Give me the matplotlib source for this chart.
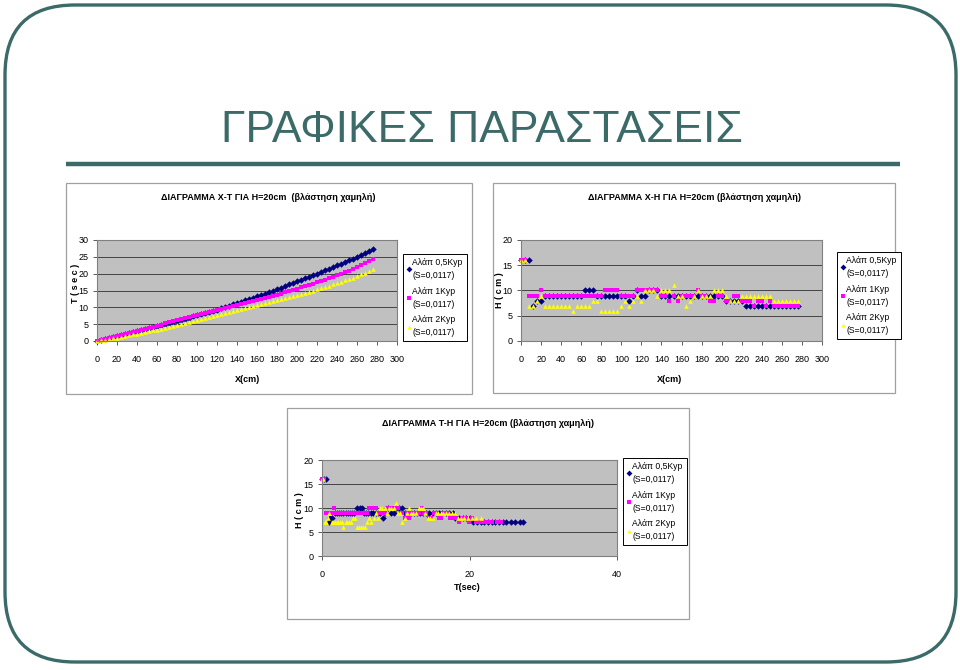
import numpy as np
import matplotlib
matplotlib.use("Agg")
import matplotlib.pyplot as plt
from matplotlib.patches import FancyBboxPatch, Rectangle
from matplotlib.lines import Line2D

plt.rcParams['font.family'] = ['Liberation Sans', 'DejaVu Sans']

# distance along the channel (cm), same grid for the three runs
x_cm = [0, 4, 8, 12, 16, 20, 24, 28, 32, 36,
        40, 44, 48, 52, 56, 60, 64, 68, 72, 76,
        80, 84, 88, 92, 96, 100, 104, 108, 112, 116,
        120, 124, 128, 132, 136, 140, 144, 148, 152, 156,
        160, 164, 168, 172, 176, 180, 184, 188, 192, 196,
        200, 204, 208, 212, 216, 220, 224, 228, 232, 236,
        240, 244, 248, 252, 256, 260, 264, 268, 272, 276]

# time (sec)
t_05 = [0, 0.3, 0.6, 0.9, 1.1, 1.4, 1.7, 2.0, 2.3, 2.6,
        2.9, 3.2, 3.5, 3.8, 4.1, 4.4, 4.8, 5.1, 5.4, 5.7,
        6.0, 6.3, 6.6, 6.9, 7.3, 7.6, 7.9, 8.3, 8.6, 8.9,
        9.3, 9.7, 10.1, 10.5, 10.9, 11.3, 11.7, 12.1, 12.5, 12.9,
        13.3, 13.7, 14.1, 14.5, 15.0, 15.4, 15.8, 16.3, 16.8, 17.2,
        17.7, 18.1, 18.6, 19.1, 19.5, 20.0, 20.5, 21.0, 21.5, 22.0,
        22.5, 23.0, 23.4, 24.0, 24.5, 25.0, 25.6, 26.2, 26.8, 27.3]
t_1 = [0, 0.3, 0.6, 1.0, 1.3, 1.6, 1.9, 2.2, 2.5, 2.8,
       3.1, 3.4, 3.7, 4.0, 4.3, 4.6, 4.9, 5.2, 5.5, 5.8,
       6.1, 6.4, 6.7, 7.0, 7.3, 7.6, 7.9, 8.2, 8.5, 8.8,
       9.1, 9.4, 9.7, 10.0, 10.3, 10.6, 10.9, 11.2, 11.5, 11.8,
       12.1, 12.5, 12.8, 13.1, 13.5, 13.8, 14.1, 14.5, 14.8, 15.2,
       15.5, 15.9, 16.2, 16.6, 17.0, 17.4, 17.8, 18.2, 18.6, 19.0,
       19.5, 19.9, 20.4, 20.9, 21.4, 22.0, 22.5, 23.1, 23.7, 24.3]
t_2 = [0, 0.2, 0.4, 0.6, 0.8, 1.0, 1.3, 1.5, 1.7, 2.0,
       2.2, 2.4, 2.7, 2.9, 3.2, 3.4, 3.7, 3.9, 4.2, 4.5,
       4.7, 5.0, 5.3, 5.6, 5.8, 6.1, 6.4, 6.7, 7.0, 7.3,
       7.6, 7.9, 8.2, 8.5, 8.8, 9.1, 9.4, 9.7, 10.0, 10.3,
       10.6, 10.9, 11.2, 11.5, 11.8, 12.1, 12.4, 12.7, 13.1, 13.4,
       13.7, 14.0, 14.4, 14.7, 15.0, 15.4, 15.7, 16.1, 16.4, 16.8,
       17.2, 17.6, 18.0, 18.4, 18.8, 19.3, 19.8, 20.3, 20.9, 21.5]

# water depth (cm)
h_05 = [16, 16, 16, 7, 8, 8, 9, 9, 9, 9,
        9, 9, 9, 9, 9, 9, 10, 10, 10, 9,
        9, 9, 9, 9, 9, 9, 9, 8, 9, 10,
        9, 9, 10, 10, 10, 9, 9, 9, 9, 9,
        9, 9, 9, 9, 9, 9, 9, 9, 9, 9,
        9, 8, 8, 8, 8, 8, 7, 7, 7, 7,
        7, 7, 7, 7, 7, 7, 7, 7, 7, 7]
h_1 = [16, 16, 9, 9, 9, 10, 9, 9, 9, 9,
       9, 9, 9, 9, 9, 9, 9, 9, 9, 9,
       9, 10, 10, 10, 10, 9, 9, 9, 9, 10,
       10, 10, 10, 10, 10, 9, 9, 8, 9, 8,
       9, 9, 9, 9, 10, 9, 9, 8, 8, 9,
       9, 8, 8, 9, 9, 8, 8, 8, 7, 8,
       8, 7, 8, 7, 7, 7, 7, 7, 7, 7]
h_2 = [16, 16, 7, 7, 8, 9, 7, 7, 7, 7,
       7, 7, 7, 6, 7, 7, 7, 7, 8, 8,
       6, 6, 6, 6, 6, 7, 8, 7, 8, 9,
       8, 10, 10, 10, 9, 10, 10, 10, 11, 9,
       9, 7, 8, 9, 10, 9, 9, 9, 10, 10,
       10, 9, 8, 8, 8, 9, 9, 9, 9, 9,
       9, 9, 9, 8, 8, 8, 8, 8, 8, 8]

labels = ['Αλάπ 0,5Kyp\n(S=0,0117)', 'Αλάπ 1Kyp\n(S=0,0117)', 'Αλάπ 2Kyp\n(S=0,0117)']
styles = [('D', '#000080'), ('s', '#ff00ff'), ('^', '#ffff00')]

W, H = 960, 670
teal = '#3b6b68'


def box(l, t, r, b):
    return [l / W, 1 - b / H, (r - l) / W, (b - t) / H]


fig = plt.figure(figsize=(9.6, 6.7), dpi=100)

bg = fig.add_axes([0, 0, 1, 1])
bg.set_xlim(0, W)
bg.set_ylim(H, 0)
bg.axis('off')
bg.add_patch(FancyBboxPatch((5, 5), 951, 657, boxstyle='round,pad=0,rounding_size=70',
                            fc='white', ec=teal, lw=2.4))
bg.plot([66, 900], [164, 164], color=teal, lw=3.2, solid_capstyle='butt')
bg.text(482, 131, 'ΓΡΑΦΙΚΕΣ ΠΑΡΑΣΤΑΣΕΙΣ', color=teal, fontsize=32,
        ha='center', va='center')

chart_boxes = [(66, 183, 472, 394), (493, 183, 895, 393), (287, 408, 689, 619)]
for l, t, r, b in chart_boxes:
    bg.add_patch(Rectangle((l, t), r - l, b - t, fc='white', ec='#a0a0a0', lw=0.9))


def make_chart(area, xs, ys, xlim, xticks, ylim, yticks, title, title_xy,
               xlabel, xlabel_xy, ylabel, ylabel_xy, legend_xy):
    ax = fig.add_axes(box(*area))
    ax.set_facecolor('#c0c0c0')
    for s in ax.spines.values():
        s.set_color('#808080')
        s.set_linewidth(0.8)
    ax.set_xlim(*xlim)
    ax.set_ylim(*ylim)
    ax.set_xticks(xticks)
    ax.set_yticks(yticks)
    ax.yaxis.grid(True, color='#303030', lw=0.6)
    ax.set_axisbelow(True)
    ax.tick_params(axis='both', direction='out', length=3, width=0.6,
                   labelsize=6.5, color='#404040')
    ax.tick_params(axis='x', pad=7)
    ax.tick_params(axis='y', pad=3)
    handles = []
    for (m, c), x, y, lab in zip(styles, xs, ys, labels):
        ax.plot(x, y, linestyle='none', marker=m, color=c, markersize=3.3,
                markeredgewidth=0, clip_on=False)
        handles.append(Line2D([], [], linestyle='none', marker=m, color=c,
                              markersize=3, markeredgewidth=0))
    leg = ax.legend(handles, labels, loc='upper left',
                    bbox_to_anchor=(legend_xy[0] / W, 1 - legend_xy[1] / H),
                    bbox_transform=fig.transFigure, fontsize=6.2, frameon=True,
                    fancybox=False, edgecolor='black', framealpha=1,
                    borderpad=0.45, handlelength=0.4, handletextpad=0.25,
                    labelspacing=0.75, borderaxespad=0)
    for t in leg.get_texts():
        t.set_linespacing(1.6)
    leg.get_frame().set_linewidth(0.7)
    bg.text(title_xy[0], title_xy[1], title, fontsize=6.5, fontweight='bold',
            ha='center', va='center')
    bg.text(xlabel_xy[0], xlabel_xy[1], xlabel, fontsize=6.5, fontweight='bold',
            ha='center', va='center')
    bg.text(ylabel_xy[0], ylabel_xy[1], ylabel, fontsize=6.5, fontweight='bold',
            ha='center', va='center', rotation=90)
    return ax


make_chart((97, 240, 397, 341), [x_cm, x_cm, x_cm], [t_05, t_1, t_2],
           (0, 300), np.arange(0, 301, 20), (0, 30), np.arange(0, 31, 5),
           'ΔΙΑΓΡΑΜΜΑ X-T ΓΙΑ H=20cm  (βλάστηση χαμηλή)', (268, 198),
           'X(cm)', (248, 380), 'T ( s e c )', (76, 283), (403, 254))

make_chart((521, 240, 822, 341), [x_cm, x_cm, x_cm], [h_05, h_1, h_2],
           (0, 300), np.arange(0, 301, 20), (0, 20), np.arange(0, 21, 5),
           'ΔΙΑΓΡΑΜΜΑ X-H ΓΙΑ H=20cm (βλάστηση χαμηλή)', (694, 197),
           'X(cm)', (670, 380), 'H ( c m )', (499, 290), (837, 252))

make_chart((322, 460, 617, 556), [t_05, t_1, t_2], [h_05, h_1, h_2],
           (0, 40), np.arange(0, 41, 20), (0, 20), np.arange(0, 21, 5),
           'ΔΙΑΓΡΑΜΜΑ T-H ΓΙΑ H=20cm (βλάστηση χαμηλή)', (488, 423),
           'T(sec)', (467, 588), 'H ( c m )', (299, 510), (623, 458))

fig.savefig('out.png', dpi=100)
